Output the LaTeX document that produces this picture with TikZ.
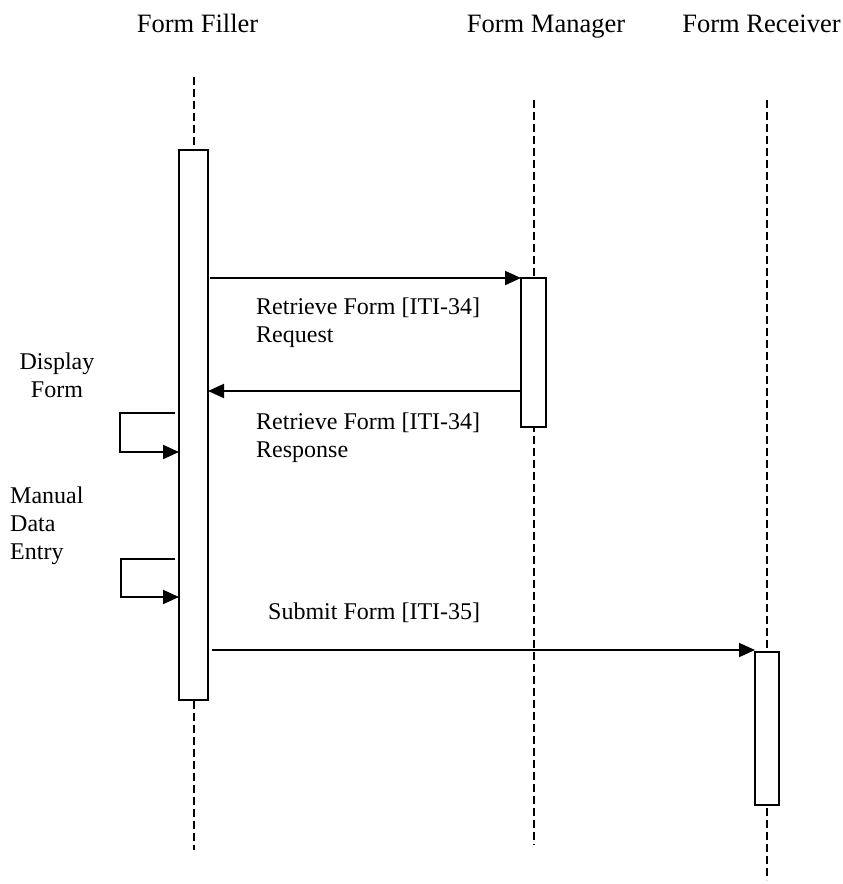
\documentclass[tikz,border=0pt]{standalone}
\usepackage{fontspec}
\setmainfont{Liberation Serif}
\usetikzlibrary{arrows.meta}
\begin{document}
\begin{tikzpicture}[x=1pt,y=-1pt,
  lifeline/.style={line width=2pt, dash pattern=on 8pt off 4pt},
  actbox/.style={draw, fill=white, line width=2pt, rectangle, inner sep=0pt, outer sep=0pt},
  msg/.style={line width=2pt, -{Triangle[length=16pt,width=14pt]}},
  selfmsg/.style={line width=2pt, -{Triangle[length=16pt,width=14pt]}},
  head/.style={font=\fontsize{26.5}{30}\selectfont, inner sep=0pt},
  lbl/.style={font=\fontsize{24}{28}\selectfont, inner sep=0pt}]
\useasboundingbox (0,0) rectangle (843,884);
% headers
\node[head, anchor=base] (hF) at (197.5,32) {Form Filler};
\node[head, anchor=base] (hM) at (546,32) {Form Manager};
\node[head, anchor=base] (hR) at (761.5,32) {Form Receiver};
% lifelines
\coordinate (fTop) at (193.5,77);
\coordinate (fBot) at (193.5,850);
\coordinate (mTop) at (533.5,100);
\coordinate (mBot) at (533.5,845);
\coordinate (rTop) at (767,100);
\coordinate (rBot) at (767,880);
\draw[lifeline] (fTop) -- (fBot);
\draw[lifeline] (mTop) -- (mBot);
\draw[lifeline] (rTop) -- (rBot);
% activation boxes
\node[actbox, minimum width=29pt, minimum height=550pt] (fb) at (193.5,425) {};
\node[actbox, minimum width=25pt, minimum height=149pt] (mb) at (533.5,352.5) {};
\node[actbox, minimum width=24pt, minimum height=153pt] (rb) at (767,728.5) {};
% messages
\coordinate (a1s) at (210,278);
\draw[msg] (a1s) -- (mb.west |- a1s);
\coordinate (a2y) at (0,391);
\draw[msg] (mb.west |- a2y) -- (fb.east |- a2y);
\coordinate (a3s) at (212,650);
\draw[msg] (a3s) -- (rb.west |- a3s);
% self messages
\coordinate (s1a) at (175,413);
\coordinate (s1b) at (120,413);
\coordinate (s1c) at (120,452);
\draw[selfmsg] (s1a) -- (s1b) -- (s1c) -- (fb.west |- s1c);
\coordinate (s2a) at (175,559);
\coordinate (s2b) at (121,559);
\coordinate (s2c) at (121,597);
\draw[selfmsg] (s2a) -- (s2b) -- (s2c) -- (fb.west |- s2c);
% labels
\node[lbl, anchor=north west, align=left] (l1) at (256,298) {Retrieve Form [ITI-34]\\Request};
\node[lbl, anchor=north west, align=left] (l2) at (256,413) {Retrieve Form [ITI-34]\\Response};
\node[lbl, anchor=north, align=center] (l3) at (57,353) {Display\\Form};
\node[lbl, anchor=north west, align=left] (l4) at (10,487) {Manual\\Data\\Entry};
\node[lbl, anchor=north west] (l5) at (268,603) {Submit Form [ITI-35]};
\end{tikzpicture}
\end{document}
